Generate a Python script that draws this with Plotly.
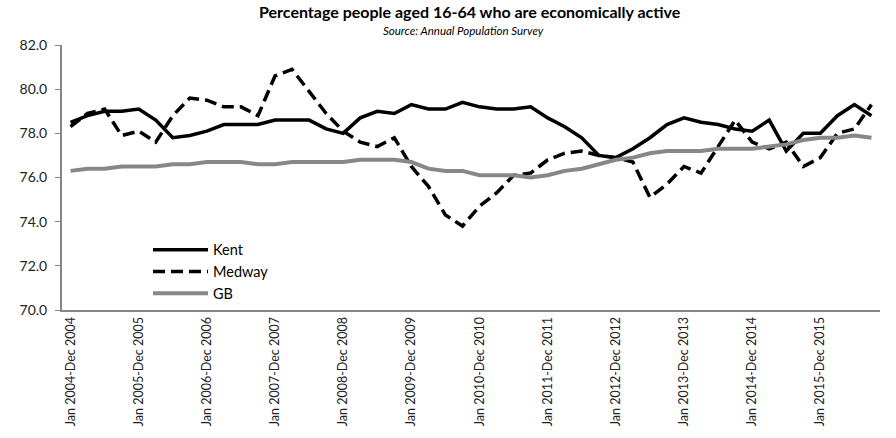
import plotly.graph_objects as go

# quarterly rolling-year periods, Jan 2004-Dec 2004 ... Oct 2015-Sep 2016
months = ["Jan", "Apr", "Jul", "Oct"]
ends = ["Dec", "Mar", "Jun", "Sep"]
periods = []
for yr in range(2004, 2016):
    for q in range(4):
        end_yr = yr if q == 0 else yr + 1
        periods.append(f"{months[q]} {yr}-{ends[q]} {end_yr}")

kent = [78.5, 78.8, 79.0, 79.0, 79.1, 78.6, 77.8, 77.9, 78.1, 78.4, 78.4, 78.4,
        78.6, 78.6, 78.6, 78.2, 78.0, 78.7, 79.0, 78.9, 79.3, 79.1, 79.1, 79.4,
        79.2, 79.1, 79.1, 79.2, 78.7, 78.3, 77.8, 77.0, 76.9, 77.3, 77.8, 78.4,
        78.7, 78.5, 78.4, 78.2, 78.1, 78.6, 77.2, 78.0, 78.0, 78.8, 79.3, 78.8]

medway = [78.3, 78.9, 79.1, 77.9, 78.1, 77.6, 78.8, 79.6, 79.5, 79.2, 79.2, 78.8,
          80.6, 80.9, 79.9, 78.9, 78.1, 77.6, 77.4, 77.8, 76.5, 75.6, 74.3, 73.8,
          74.7, 75.3, 76.1, 76.2, 76.8, 77.1, 77.2, 77.0, 76.9, 76.7, 75.1, 75.7,
          76.5, 76.2, 77.4, 78.6, 77.6, 77.3, 77.6, 76.5, 76.9, 78.0, 78.2, 79.3]

gb = [76.3, 76.4, 76.4, 76.5, 76.5, 76.5, 76.6, 76.6, 76.7, 76.7, 76.7, 76.6,
      76.6, 76.7, 76.7, 76.7, 76.7, 76.8, 76.8, 76.8, 76.7, 76.4, 76.3, 76.3,
      76.1, 76.1, 76.1, 76.0, 76.1, 76.3, 76.4, 76.6, 76.8, 76.9, 77.1, 77.2,
      77.2, 77.2, 77.3, 77.3, 77.3, 77.4, 77.5, 77.7, 77.8, 77.8, 77.9, 77.8]

tick_labels = periods[::4]

FONT = "Lato"
W, H = 896, 438
ML, MR, MT, MB = 62, 16, 45, 122
pw, ph = W - ML - MR, H - MT - MB


def px_to_paper(x, y):
    return (x - ML) / pw, (H - MB - y) / ph


fig = go.Figure()
fig.add_trace(go.Scatter(x=periods, y=kent, name="Kent", mode="lines",
                         line=dict(color="black", width=3.5)))
fig.add_trace(go.Scatter(x=periods, y=medway, name="Medway", mode="lines",
                         line=dict(color="black", width=3.5, dash="12px,6px")))
fig.add_trace(go.Scatter(x=periods, y=gb, name="GB", mode="lines",
                         line=dict(color="#878787", width=4)))

tx, ty = px_to_paper(470, 11)
sx, sy = px_to_paper(463, 30)
lx, ly = px_to_paper(148, 238)

fig.update_layout(
    width=W, height=H,
    margin=dict(l=ML, r=MR, t=MT, b=MB),
    plot_bgcolor="white", paper_bgcolor="white",
    font=dict(family=FONT, color="black", size=12),
    showlegend=True,
    legend=dict(x=lx, y=ly, xanchor="left", yanchor="top",
                bgcolor="rgba(0,0,0,0)", font=dict(size=14.5),
                itemwidth=55, tracegroupgap=0),
    annotations=[
        dict(text="<b>Percentage people aged 16-64 who are economically active</b>",
             x=tx, y=ty, xref="paper", yref="paper", showarrow=False,
             xanchor="center", yanchor="middle",
             font=dict(size=16, family=FONT)),
        dict(text="<i>Source: Annual Population Survey</i>",
             x=sx, y=sy, xref="paper", yref="paper", showarrow=False,
             xanchor="center", yanchor="middle",
             font=dict(size=11.5, family=FONT)),
    ],
)

fig.update_xaxes(
    type="category", range=[-0.5, len(periods) - 0.5],
    tickmode="array", tickvals=tick_labels, ticktext=tick_labels,
    tickangle=-90, tickfont=dict(size=12.5, color="#222"),
    showgrid=False, showline=True, linecolor="#868686", linewidth=2,
    ticks="", zeroline=False,
)
fig.update_yaxes(
    range=[70, 82], dtick=2, tickformat=".1f",
    tickfont=dict(size=14, color="#222"), ticklabelstandoff=5,
    showgrid=False, showline=True, linecolor="#868686", linewidth=2,
    ticks="outside", ticklen=5, tickcolor="#868686", zeroline=False,
)

fig.write_html("out.html", config={"displayModeBar": False},
               post_script="document.body.style.margin='0';")
